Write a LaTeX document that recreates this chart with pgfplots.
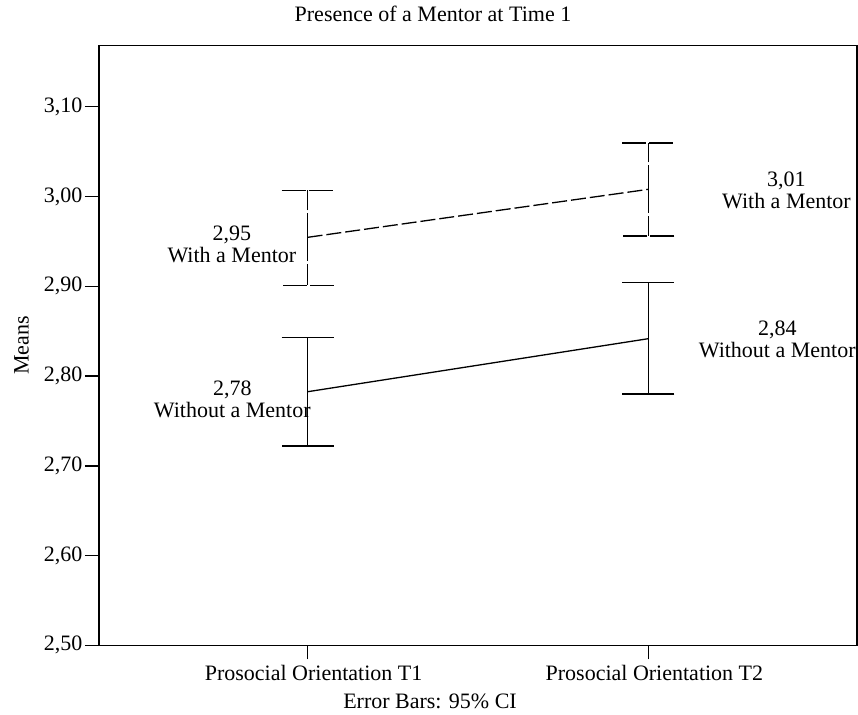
\documentclass[border=0pt]{standalone}
\usepackage{fontspec}
\setmainfont{Liberation Serif}
\usepackage{pgfplots}
\pgfplotsset{compat=1.18}
\begin{document}
\begin{tikzpicture}[font=\fontsize{22bp}{26bp}\selectfont]
\useasboundingbox (0,0) rectangle (858bp,715bp);
\begin{axis}[
  at={(99bp,69.7bp)}, anchor=south west,
  scale only axis, width=758bp, height=599.6bp,
  xmin=0.388, xmax=2.612, ymin=2.5, ymax=3.168,
  xtick={1,2},
  xticklabels={Prosocial Orientation T1, Prosocial Orientation T2},
  ytick={2.5,2.6,2.7,2.8,2.9,3.0,3.1},
  yticklabel style={/pgf/number format/fixed, /pgf/number format/fixed zerofill,
    /pgf/number format/precision=2, /pgf/number format/use comma, xshift=1bp,
    font=\fontsize{22bp}{26bp}\selectfont\rmfamily},
  /pgf/number format/assume math mode=true,
  tick align=outside, major tick length=14bp,
  xtick pos=left, ytick pos=left,
  axis line style={line width=1.5bp},
  tick style={line width=1.5bp, black},
  xticklabel style={xshift=6bp, yshift=-2bp},
  title={Presence of a Mentor at Time 1},
  title style={at={(axis description cs:0.4406,1.0434)}, anchor=center},
  xlabel={Error Bars: 95\% CI},
  xlabel style={at={(axis description cs:0.4367,-0.0934)}, anchor=center},
  ylabel={Means},
  ylabel style={at={(axis description cs:-0.1022,0.5)}, anchor=center, rotate=0},
]
% Without a Mentor (solid)
\addplot[black, solid, line width=1.3bp, mark=none,
  error bars/.cd, y dir=both, y explicit,
  error bar style={line width=1.3bp, black, solid},
  error mark options={rotate=90, mark size=26bp, line width=1.3bp, black, solid}]
  coordinates {
    (1,2.7825) += (0,0.0605) -= (0,0.0605)
    (2,2.8416) += (0,0.0624) -= (0,0.0616)
  };
% With a Mentor (dashed)
\addplot[black, line width=1.3bp, mark=none, dash pattern=on 15bp off 4bp,
  error bars/.cd, y dir=both, y explicit,
  error bar style={line width=1.3bp, black, dash pattern=on 24bp off 3bp},
  error mark options={rotate=90, mark size=26bp, line width=1.3bp, black, dash pattern=on 24bp off 3bp}]
  coordinates {
    (1,2.9545) += (0,0.0525) -= (0,0.0535)
    (2,3.0080) += (0,0.0515) -= (0,0.0520)
  };
\node[align=center, font=\fontsize{22bp}{22bp}\selectfont] at (axis cs:0.778,2.947) {2,95\\With a Mentor};
\node[align=center, font=\fontsize{22bp}{22bp}\selectfont] at (axis cs:0.779,2.774) {2,78\\Without a Mentor};
\node[align=center, font=\fontsize{22bp}{22bp}\selectfont] at (axis cs:2.405,3.0066) {3,01\\With a Mentor};
\node[align=center, font=\fontsize{22bp}{22bp}\selectfont] at (axis cs:2.378,2.8406) {2,84\\Without a Mentor};
\end{axis}
\end{tikzpicture}
\end{document}
